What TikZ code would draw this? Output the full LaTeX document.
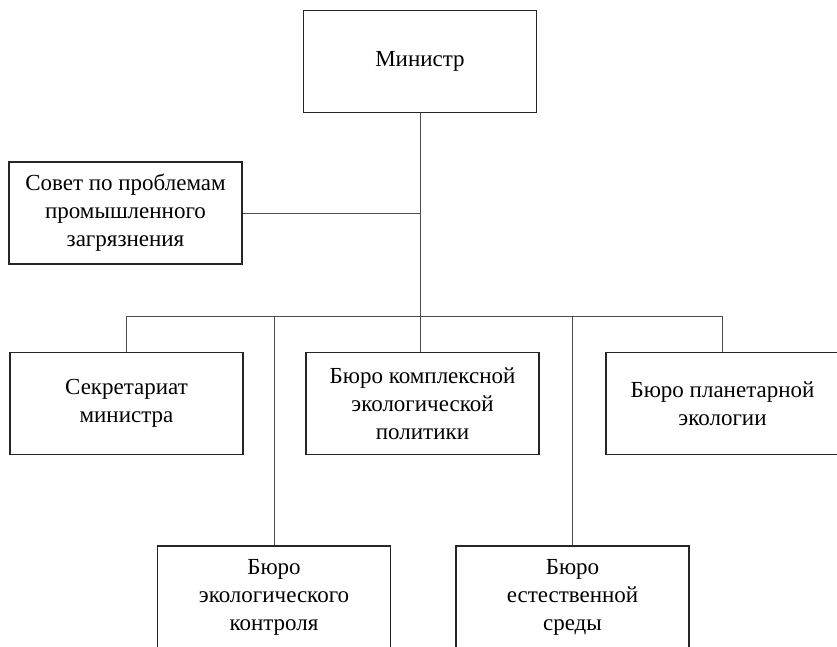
\documentclass[tikz,border=0pt]{standalone}
\usepackage{fontspec}
\setmainfont{Liberation Serif}
\usetikzlibrary{positioning, calc}
\tikzset
{%
unit/.style={draw=black!85, line width=1.1pt, align=center, minimum width=233pt, minimum height=102pt, inner sep=2pt, font=\fontsize{23}{28}\selectfont},
link/.style={draw=black!70, line width=0.9pt}
}

\begin{document}
\begin{tikzpicture}[x=1pt, y=-1pt]
	\useasboundingbox (0,0) rectangle (837,646);
	\clip (0,0) rectangle (837,646);

		% [TOP]
		\node[unit] (min) at (420, 61.5) {Министр};
		\node[unit] (council) at (125.5, 213) {Совет по проблемам\\промышленного\\загрязнения};

		% [MIDDLE ROW]
		\node[unit] (secr) at (126.5, 403.5) {Секретариат\\министра};
		\node[unit] (policy) at (422.5, 403.5) {Бюро комплексной\\экологической\\политики};
		\node[unit] (planet) at (722.5, 403.5) {Бюро планетарной\\экологии};

		% [BOTTOM ROW]
		\node[unit] (control) at (274, 597) {Бюро\\экологического\\контроля};
		\node[unit] (nature) at (572.5, 597) {Бюро\\естественной\\среды};

		\coordinate (trunk) at (min.south);
		\coordinate (bus) at ($(trunk) + (0, 203)$);

		\path[link] (trunk) -- (bus);
		\path[link] (council.east) -- (council.east -| trunk);
		\path[link] (secr.north) |- (bus) -| (planet.north);
		\path[link] (control.north) -- (control.north |- bus);
		\path[link] (nature.north) -- (nature.north |- bus);
		\path[link] (bus) -- (bus |- policy.north);
\end{tikzpicture}
\end{document}
